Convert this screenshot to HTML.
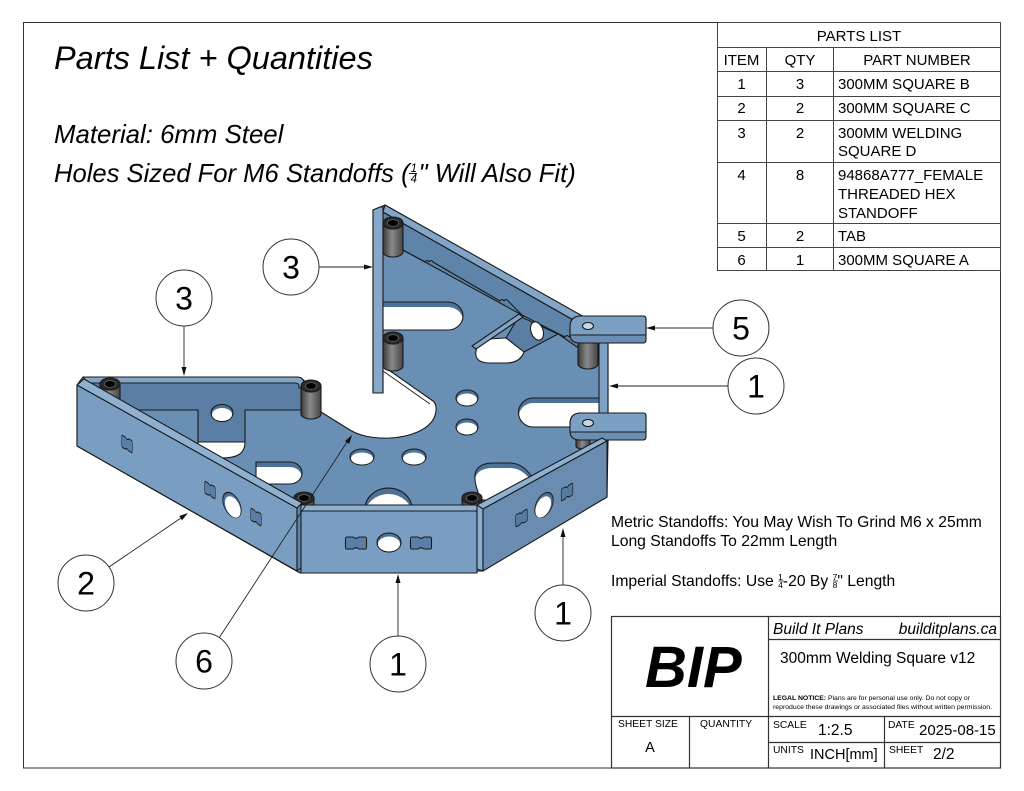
<!DOCTYPE html>
<html><head><meta charset="utf-8"><style>
html,body{margin:0;padding:0;background:#fff;}
svg{display:block;}
text{font-family:"Liberation Sans",Arial,sans-serif;fill:#000;}
</style></head><body>
<svg width="1024" height="791" viewBox="0 0 1024 791" xmlns="http://www.w3.org/2000/svg">
<defs>
<linearGradient id="sg" x1="0" x2="1" y1="0" y2="0">
<stop offset="0" stop-color="#3a3a3a"/><stop offset="0.45" stop-color="#8a8a8a"/><stop offset="1" stop-color="#444"/>
</linearGradient>
<path id="s1" d="M383,302 L448,302 A15,14 0 0 1 448,330 L383,330 Z"/>
<path id="s2" d="M600,398 L533,398 A14.5,14.5 0 0 0 533,427 L600,427 Z"/>
<path id="s3" d="M478,492 C470,470 478,463 494,463 L510,463 C520,463 528,470 534,480 L534,500 L478,500 Z"/>
<path id="s4" d="M256,462 L290,462 A12,11 0 0 1 290,484 L256,484 Z"/>
<path id="s5" d="M365,509 A23.5,21 0 0 1 412,509 Z"/>
<clipPath id="c1"><use href="#s1"/></clipPath>
<clipPath id="c2"><use href="#s2"/></clipPath>
<clipPath id="c3"><use href="#s3"/></clipPath>
<clipPath id="c4"><use href="#s4"/></clipPath>
<clipPath id="c5"><use href="#s5"/></clipPath>
<path id="bone" d="M-9.5,-6 L-3,-6 Q0,-3.5 3,-6 L9.5,-6 Q10.5,-6 10.5,-3 L10.5,3 Q10.5,6 9.5,6 L3,6 Q0,3.5 -3,6 L-9.5,6 Q-10.5,6 -10.5,3 L-10.5,-3 Q-10.5,-6 -9.5,-6 Z"/>
</defs>

<!-- frame -->
<rect x="23.5" y="22.5" width="977" height="745.5" fill="none" stroke="#333" stroke-width="1"/>

<!-- headings -->
<text x="54" y="69" font-size="32.5" font-style="italic">Parts List + Quantities</text>
<text x="54" y="143" font-size="25.8" font-style="italic">Material: 6mm Steel</text>
<text x="54" y="182" font-size="25.6" font-style="italic">Holes Sized For M6 Standoffs (<tspan font-size="11.5" dx="1" dy="-10">1</tspan><tspan font-size="11.5" dx="-6.4" dy="10.5">4</tspan><tspan dx="1.5" dy="-0.5">" Will Also Fit)</tspan></text>
<line x1="409" y1="173.5" x2="417" y2="173.5" stroke="#000" stroke-width="0.9"/>

<!-- parts list table -->
<g stroke="#444" stroke-width="1" fill="none">
<rect x="717.5" y="22.5" width="283" height="248"/>
<line x1="717.5" y1="47.5" x2="1000.5" y2="47.5"/>
<line x1="717.5" y1="71.5" x2="1000.5" y2="71.5"/>
<line x1="717.5" y1="96.5" x2="1000.5" y2="96.5"/>
<line x1="717.5" y1="120.5" x2="1000.5" y2="120.5"/>
<line x1="717.5" y1="162.5" x2="1000.5" y2="162.5"/>
<line x1="717.5" y1="223.5" x2="1000.5" y2="223.5"/>
<line x1="717.5" y1="247.5" x2="1000.5" y2="247.5"/>
<line x1="766.5" y1="47.5" x2="766.5" y2="270.5"/>
<line x1="833.5" y1="47.5" x2="833.5" y2="270.5"/>
</g>
<g font-size="15">
<text x="859" y="41" text-anchor="middle">PARTS LIST</text>
<text x="741.5" y="65" text-anchor="middle">ITEM</text>
<text x="800" y="65" text-anchor="middle">QTY</text>
<text x="917" y="65" text-anchor="middle">PART NUMBER</text>
<text x="741.5" y="89" text-anchor="middle">1</text><text x="800" y="89" text-anchor="middle">3</text><text x="838" y="89">300MM SQUARE B</text>
<text x="741.5" y="113" text-anchor="middle">2</text><text x="800" y="113" text-anchor="middle">2</text><text x="838" y="113">300MM SQUARE C</text>
<text x="741.5" y="138" text-anchor="middle">3</text><text x="800" y="138" text-anchor="middle">2</text><text x="838" y="138">300MM WELDING</text>
<text x="838" y="156">SQUARE D</text>
<text x="741.5" y="180" text-anchor="middle">4</text><text x="800" y="180" text-anchor="middle">8</text><text x="838" y="180">94868A777_FEMALE</text>
<text x="838" y="199">THREADED HEX</text>
<text x="838" y="218">STANDOFF</text>
<text x="741.5" y="241" text-anchor="middle">5</text><text x="800" y="241" text-anchor="middle">2</text><text x="838" y="241">TAB</text>
<text x="741.5" y="265" text-anchor="middle">6</text><text x="800" y="265" text-anchor="middle">1</text><text x="838" y="265">300MM SQUARE A</text>
</g>

<!-- ============ 3D MODEL ============ -->
<g stroke="#1a1a1a" stroke-width="1.1" stroke-linejoin="round">
<!-- base plate -->
<path d="M373,210 L385,205 L602,328 L600,340 L608,340 L608,441 L607,497 L482,571 L300,573 L77,446 L77,385 L83,377 L297,377 Q304,378 304,386 L304,405 L321,412 L350,430 C358,435 372,439 390,438 C410,437 428,430 434,418 C437,411 437,404 433,401 L383,366 L383,393 L373,393 Z" fill="#6a8fb4"/>
<path d="M383,371 L430,404" fill="none" stroke-width="0.9"/>

<!-- upper diagonal wall -->
<path d="M383,212 L598,334 L598,347 L590,347 L577,347 L557,333 L522,315 L403,250 L383,240 Z" fill="#5f84aa"/>
<path d="M385,205 L602,327 L598,334 L383,212 Z" fill="#82a5c8"/>
<path d="M403,250 L425,262 q2,-3 4,0 q2,-3 4,0 L500,301 q2,-3 4,0 q2,-3 4,0 L522,315 M557,333 L565,337 q2,-3 4,0 q2,-3 4,0 L590,347" fill="none"/>

<!-- upper T face + slot -->
<path d="M519,316 L558,334 L524,352 L506,338 Z" fill="#5b7fa4"/>
<ellipse cx="537" cy="331" rx="6" ry="9.5" transform="rotate(-20 537 331)" fill="#fff"/>
<path d="M476,351 Q478,342 488,339 L506,338 L524,352 Q520,363 506,363 L488,363 Q474,362 476,351 Z" fill="#fff"/>
<path d="M472,346 L519,314 L523,317 L476,349 Z" fill="#82a5c8"/>

<!-- slots -->
<use href="#s1" fill="#4d7197" stroke="none"/><g clip-path="url(#c1)"><use href="#s1" transform="translate(0,5)" fill="#fff" stroke="none"/></g><use href="#s1" fill="none"/>
<use href="#s2" fill="#4d7197" stroke="none"/><g clip-path="url(#c2)"><use href="#s2" transform="translate(0,5)" fill="#fff" stroke="none"/></g><use href="#s2" fill="none"/>
<use href="#s3" fill="#4d7197" stroke="none"/><g clip-path="url(#c3)"><use href="#s3" transform="translate(0,5)" fill="#fff" stroke="none"/></g><use href="#s3" fill="none"/>
<use href="#s4" fill="#4d7197" stroke="none"/><g clip-path="url(#c4)"><use href="#s4" transform="translate(0,5)" fill="#fff" stroke="none"/></g><use href="#s4" fill="none"/>
<use href="#s5" fill="#4d7197" stroke="none"/><g clip-path="url(#c5)"><use href="#s5" transform="translate(0,6)" fill="#fff" stroke="none"/></g><use href="#s5" fill="none"/>

<!-- small plate holes -->
<ellipse cx="362" cy="457" rx="12" ry="8" fill="#4d7197"/><ellipse cx="362" cy="458.5" rx="11" ry="6" fill="#fff" stroke="none"/>
<ellipse cx="414" cy="457" rx="12" ry="8" fill="#4d7197"/><ellipse cx="414" cy="458.5" rx="11" ry="6" fill="#fff" stroke="none"/>
<ellipse cx="467" cy="398" rx="11" ry="8" fill="#4d7197"/><ellipse cx="467" cy="399.5" rx="10" ry="6" fill="#fff" stroke="none"/>
<ellipse cx="467" cy="427" rx="11" ry="8" fill="#4d7197"/><ellipse cx="467" cy="428.5" rx="10" ry="6" fill="#fff" stroke="none"/>

<!-- left back wall -->
<path d="M198,442 L245,442 C245,455 235,458 222,458 C209,458 198,455 198,442 Z" fill="#fff"/>
<path d="M84,380 L304,380 L304,410 L245,410 L245,442 L198,442 L198,410 L138,410 Z" fill="#5b7fa4"/>
<ellipse cx="222" cy="413" rx="11" ry="8.5" fill="#4d7197"/><ellipse cx="222" cy="414.5" rx="10" ry="6.5" fill="#fff" stroke="none"/>
<path d="M83,377 L297,377 Q304,377 304,384 L304,388 L299,388 L299,386 Q299,383 295,383 L88,383 Z" fill="#82a5c8"/>

<!-- upper wall vertical strip -->
<path d="M373,210 L380,207 L383,207 L383,393 L373,393 Z" fill="#86a8ca"/>

<!-- right end wall strip -->
<path d="M599,332 L608,338 L608,442 L599,446 Z" fill="#7ea2c6"/>

<!-- standoffs -->
<g>
<path d="M100,384 L100,400 A10,5 0 0 0 120,400 L120,384 Z" fill="url(#sg)"/>
<ellipse cx="110" cy="384" rx="10" ry="6" fill="#2b2b2b"/><ellipse cx="110" cy="384" rx="5.5" ry="3.3" fill="#000" stroke="#777" stroke-width="0.6"/>
<path d="M301,386 L301,414 A10,5 0 0 0 321,414 L321,386 Z" fill="url(#sg)"/>
<ellipse cx="311" cy="386" rx="10" ry="6" fill="#2b2b2b"/><ellipse cx="311" cy="386" rx="5.5" ry="3.3" fill="#000" stroke="#777" stroke-width="0.6"/>
<path d="M383,223 L383,252 A10,5 0 0 0 403,252 L403,223 Z" fill="url(#sg)"/>
<ellipse cx="393" cy="223" rx="10" ry="6" fill="#2b2b2b"/><ellipse cx="393" cy="223" rx="5.5" ry="3.3" fill="#000" stroke="#777" stroke-width="0.6"/>
<path d="M383,338 L383,366 A10,5 0 0 0 403,366 L403,338 Z" fill="url(#sg)"/>
<ellipse cx="393" cy="338" rx="10" ry="6" fill="#2b2b2b"/><ellipse cx="393" cy="338" rx="5.5" ry="3.3" fill="#000" stroke="#777" stroke-width="0.6"/>
<path d="M578,340 L578,364 A10,5 0 0 0 598,364 L598,340 Z" fill="url(#sg)"/>
<path d="M576,436 L576,446 A7,3 0 0 0 590,446 L590,436 Z" fill="url(#sg)"/>
<path d="M294,499 L294,508 L314,508 L314,499 Z" fill="url(#sg)"/>
<ellipse cx="304" cy="498" rx="10" ry="6" fill="#2b2b2b"/><ellipse cx="304" cy="498" rx="5.5" ry="3.3" fill="#000" stroke="#777" stroke-width="0.6"/>
<path d="M462,499 L462,508 L482,508 L482,499 Z" fill="url(#sg)"/>
<ellipse cx="472" cy="498" rx="10" ry="6" fill="#2b2b2b"/><ellipse cx="472" cy="498" rx="5.5" ry="3.3" fill="#000" stroke="#777" stroke-width="0.6"/>
</g>

<!-- tabs -->
<g id="tab">
<path d="M581,316 L643,316 Q646,316 646,319 L646,340 Q646,343 643,343 L580,343 Q570,343 570,334 L570,327 Q570,316 581,316 Z" fill="#6a8eb4"/>
<path d="M581,316 L643,316 Q646,316 646,319 L646,335 L570,335 L570,327 Q570,316 581,316 Z" fill="#7ca0c4"/>
<ellipse cx="588" cy="326" rx="5.5" ry="3.5" fill="#c5d6e6"/>
</g>
<use href="#tab" transform="translate(0,97)"/>

<!-- left wall (part 2) -->
<path d="M77,385 L297,508 L297,571 L77,446 Z" fill="#7a9ec2"/>
<path d="M77,385 L84,379 L302,503 L297,508 Z" fill="#8fb1d1"/>
<path d="M297,508 L302,503 L302,567 L297,571 Z" fill="#5f84aa"/>
<use href="#bone" transform="matrix(0.5,0.28,0,1,127,444)" fill="#5a7ea5"/>
<use href="#bone" transform="matrix(0.5,0.28,0,1,210,490)" fill="#5a7ea5"/>
<use href="#bone" transform="matrix(0.5,0.28,0,1,256,517)" fill="#5a7ea5"/>
<g transform="matrix(0.8,0.45,0,1,232,505)"><circle r="11.5" fill="#4d7197"/><circle cx="1" cy="1.5" r="9.8" fill="#fff" stroke="none"/></g>

<!-- front wall -->
<path d="M301,505 L477,505 L477,511 L301,511 Z" fill="#8fb1d1"/>
<path d="M301,511 L477,511 L477,573 L301,573 Z" fill="#7a9ec2"/>
<use href="#bone" transform="translate(356,543)" fill="#5a7ea5"/>
<use href="#bone" transform="translate(421,543)" fill="#5a7ea5"/>
<ellipse cx="389" cy="542.5" rx="12" ry="9.5" fill="#4d7197"/><ellipse cx="389" cy="544" rx="11" ry="7.5" fill="#fff" stroke="none"/>

<!-- right wall -->
<path d="M477,505 L483,508 L483,571 L477,569 Z" fill="#8aaccd"/>
<path d="M477,505 L602,438 L607,441 L483,509 Z" fill="#8fb1d1"/>
<path d="M483,509 L607,441 L607,497 L483,571 Z" fill="#6a8cb0"/>
<use href="#bone" transform="matrix(0.55,-0.29,0,1,521.5,518)" fill="#56799f"/>
<use href="#bone" transform="matrix(0.55,-0.29,0,1,567,492)" fill="#56799f"/>
<g transform="matrix(0.8,-0.43,0,1,544,505)"><circle r="11.5" fill="#4d7197"/><circle cx="-1" cy="1.5" r="9.8" fill="#fff" stroke="none"/></g>
</g>

<!-- ============ BALLOONS ============ -->
<g stroke="#222" stroke-width="0.9" fill="none">
<line x1="184" y1="326" x2="184" y2="368"/>
<line x1="319" y1="267" x2="365" y2="267"/>
<line x1="713" y1="328" x2="654" y2="328"/>
<line x1="728" y1="386" x2="617" y2="386"/>
<line x1="109" y1="567" x2="181" y2="518"/>
<line x1="219.3" y1="637.6" x2="347" y2="442"/>
<line x1="398" y1="636" x2="398" y2="582"/>
<line x1="563" y1="585" x2="563" y2="536"/>
</g>
<g fill="#111">
<polygon points="184,376 181.5,367 186.5,367"/>
<polygon points="373,267 364,264.5 364,269.5"/>
<polygon points="646,328 655,325.5 655,330.5"/>
<polygon points="609,386 618,383.5 618,388.5"/>
<polygon points="188,513 182,520.2 179.2,516"/>
<polygon points="352,435 349.2,443.9 345,441.1"/>
<polygon points="398,574 395.5,583 400.5,583"/>
<polygon points="563,528 560.5,537 565.5,537"/>
</g>
<g fill="#fff" stroke="#333" stroke-width="1">
<circle cx="184" cy="298" r="28"/>
<circle cx="291" cy="267" r="28"/>
<circle cx="741" cy="328" r="28"/>
<circle cx="756" cy="386" r="28"/>
<circle cx="86" cy="583" r="28"/>
<circle cx="204" cy="661" r="28"/>
<circle cx="398" cy="664" r="28"/>
<circle cx="563" cy="613" r="28"/>
</g>
<g font-size="32" text-anchor="middle">
<text x="184" y="309.5">3</text>
<text x="291" y="278.5">3</text>
<text x="741" y="339.5">5</text>
<text x="756" y="397.5">1</text>
<text x="86" y="594.5">2</text>
<text x="204" y="672.5">6</text>
<text x="398" y="675.5">1</text>
<text x="563" y="624.5">1</text>
</g>

<!-- notes -->
<g font-size="15.7">
<text x="611" y="527">Metric Standoffs: You May Wish To Grind M6 x 25mm</text>
<text x="611" y="546">Long Standoffs To 22mm Length</text>
<text x="611" y="586">Imperial Standoffs: Use <tspan font-size="8.5" dy="-6">1</tspan><tspan font-size="8.5" dx="-4.7" dy="8">4</tspan><tspan dy="-2">-20 By </tspan><tspan font-size="8.5" dy="-6">7</tspan><tspan font-size="8.5" dx="-4.7" dy="8">8</tspan><tspan dy="-2">" Length</tspan></text>
</g>
<line x1="778.5" y1="581" x2="783.5" y2="581" stroke="#000" stroke-width="0.7"/>
<line x1="833" y1="581" x2="838" y2="581" stroke="#000" stroke-width="0.7"/>

<!-- title block -->
<g stroke="#333" stroke-width="1.2" fill="none">
<rect x="611.5" y="616.5" width="389" height="151.5"/>
<line x1="768.5" y1="616.5" x2="768.5" y2="768"/>
<line x1="768.5" y1="639.5" x2="1000.5" y2="639.5"/>
<line x1="611.5" y1="716.5" x2="1000.5" y2="716.5"/>
<line x1="689.5" y1="716.5" x2="689.5" y2="768"/>
<line x1="768.5" y1="742.5" x2="1000.5" y2="742.5"/>
<line x1="884.5" y1="716.5" x2="884.5" y2="768"/>
</g>
<text x="645" y="687" font-size="58" font-weight="bold" font-style="italic">BIP</text>
<text x="773" y="634" font-size="15.5" font-style="italic">Build It Plans</text>
<text x="997" y="634" font-size="15.5" font-style="italic" text-anchor="end">builditplans.ca</text>
<text x="780" y="663" font-size="15.5">300mm Welding Square v12</text>
<text x="773" y="700" font-size="6.6" textLength="197" lengthAdjust="spacingAndGlyphs"><tspan font-weight="bold">LEGAL NOTICE:</tspan> Plans are for personal use only. Do not copy or</text>
<text x="773" y="709" font-size="6.6" textLength="219" lengthAdjust="spacingAndGlyphs">reproduce these drawings or associated files without written permission.</text>
<text x="618" y="727" font-size="10.3">SHEET SIZE</text>
<text x="700" y="727" font-size="10.3">QUANTITY</text>
<text x="650" y="752" font-size="14.5" text-anchor="middle">A</text>
<text x="773" y="728" font-size="10.3">SCALE</text>
<text x="818" y="735" font-size="15.5">1:2.5</text>
<text x="888" y="728" font-size="10.3">DATE</text>
<text x="919" y="735" font-size="15">2025-08-15</text>
<text x="773" y="753" font-size="10.3">UNITS</text>
<text x="810" y="759" font-size="14.5">INCH[mm]</text>
<text x="889" y="753" font-size="10.3">SHEET</text>
<text x="933" y="759" font-size="15.5">2/2</text>
</svg>
</body></html>
